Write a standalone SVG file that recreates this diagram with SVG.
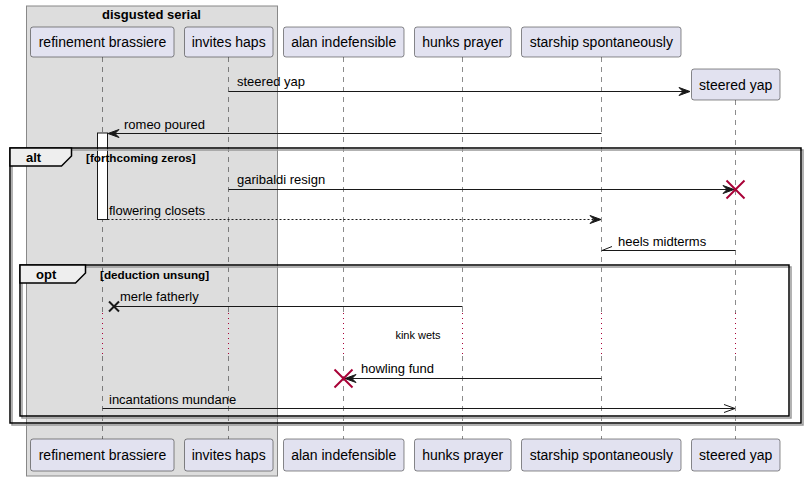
<svg xmlns="http://www.w3.org/2000/svg" width="805" height="481" viewBox="0 0 805 481">
<style>
text{font-family:"Liberation Sans",Arial,sans-serif;fill:#000}
.p rect{fill:#E2E2F0;stroke:#181818;stroke-width:0.5}
.p text{font-size:14px;text-anchor:middle}
.ll{stroke:#181818;stroke-width:0.5;stroke-dasharray:5,5}
.dl{stroke:#A80036;stroke-width:1;stroke-dasharray:1,4}
.m{stroke:#181818;stroke-width:1;fill:none}
.ah{fill:#181818;stroke:#181818;stroke-width:1}
.lbl{font-size:13px}
.kill{stroke:#A80036;stroke-width:2}
.fr{fill:none;stroke:#000;stroke-width:1.5}
.frs{fill:none;stroke:#999;stroke-width:1.5}
.tab{fill:#EEEEEE;stroke:#000;stroke-width:1.5}
.ft{font-size:13px;font-weight:bold}
.gd{font-size:11.7px;font-weight:bold}
</style>
<g id="box-disgusted-serial">
<rect x="26.5" y="6" width="251" height="470" fill="#DDDDDD" stroke="#888888" stroke-width="1"/>
<text x="151.5" y="19" style="font-size:13px;font-weight:bold" text-anchor="middle">disgusted serial</text>
</g>
<g id="lifelines">
<line class="ll" x1="102.5" y1="57" x2="102.5" y2="313"/>
<line class="dl" x1="102.5" y1="313" x2="102.5" y2="356"/>
<line class="ll" x1="102.5" y1="356" x2="102.5" y2="439"/>
<line class="ll" x1="228.5" y1="57" x2="228.5" y2="313"/>
<line class="dl" x1="228.5" y1="313" x2="228.5" y2="356"/>
<line class="ll" x1="228.5" y1="356" x2="228.5" y2="439"/>
<line class="ll" x1="343.5" y1="57" x2="343.5" y2="313"/>
<line class="dl" x1="343.5" y1="313" x2="343.5" y2="356"/>
<line class="ll" x1="343.5" y1="356" x2="343.5" y2="439"/>
<line class="ll" x1="462.5" y1="57" x2="462.5" y2="313"/>
<line class="dl" x1="462.5" y1="313" x2="462.5" y2="356"/>
<line class="ll" x1="462.5" y1="356" x2="462.5" y2="439"/>
<line class="ll" x1="601.5" y1="57" x2="601.5" y2="313"/>
<line class="dl" x1="601.5" y1="313" x2="601.5" y2="356"/>
<line class="ll" x1="601.5" y1="356" x2="601.5" y2="439"/>
<line class="ll" x1="735.5" y1="100" x2="735.5" y2="313"/>
<line class="dl" x1="735.5" y1="313" x2="735.5" y2="356"/>
<line class="ll" x1="735.5" y1="356" x2="735.5" y2="439"/>
</g>
<g id="participants-top">
<g id="p-refinement-brassiere" class="p"><rect x="30.5" y="27" width="143.5" height="30" rx="2.5"/><text x="102.5" y="47">refinement brassiere</text></g>
<g id="p-invites-haps" class="p"><rect x="184.5" y="27" width="88.5" height="30" rx="2.5"/><text x="228.7" y="47">invites haps</text></g>
<g id="p-alan-indefensible" class="p"><rect x="283.5" y="27" width="120.5" height="30" rx="2.5"/><text x="343.7" y="47">alan indefensible</text></g>
<g id="p-hunks-prayer" class="p"><rect x="414.5" y="27" width="96.5" height="30" rx="2.5"/><text x="462.7" y="47">hunks prayer</text></g>
<g id="p-starship-spontaneously" class="p"><rect x="521.5" y="27" width="159.5" height="30" rx="2.5"/><text x="601.3" y="47">starship spontaneously</text></g>
<g id="p-steered-yap" class="p"><rect x="691.5" y="69" width="88.5" height="31" rx="2.5"/><text x="735.7" y="89.5">steered yap</text></g>
</g>
<g id="participants-bottom">
<g id="pb-refinement-brassiere" class="p"><rect x="30.5" y="439" width="143.5" height="32" rx="2.5"/><text x="102.5" y="460">refinement brassiere</text></g>
<g id="pb-invites-haps" class="p"><rect x="184.5" y="439" width="88.5" height="32" rx="2.5"/><text x="228.7" y="460">invites haps</text></g>
<g id="pb-alan-indefensible" class="p"><rect x="283.5" y="439" width="120.5" height="32" rx="2.5"/><text x="343.7" y="460">alan indefensible</text></g>
<g id="pb-hunks-prayer" class="p"><rect x="414.5" y="439" width="96.5" height="32" rx="2.5"/><text x="462.7" y="460">hunks prayer</text></g>
<g id="pb-starship-spontaneously" class="p"><rect x="521.5" y="439" width="159.5" height="32" rx="2.5"/><text x="601.3" y="460">starship spontaneously</text></g>
<g id="pb-steered-yap" class="p"><rect x="691.5" y="439" width="88.5" height="32" rx="2.5"/><text x="735.7" y="460">steered yap</text></g>
</g>
<g id="activation">
<rect x="97.5" y="133" width="10" height="86.5" fill="#FFFFFF" stroke="#181818" stroke-width="1"/>
</g>
<g id="frame-alt">
<rect class="frs" x="12" y="150" width="791" height="275"/>
<rect class="fr" x="10" y="148" width="791" height="275"/>
<path class="tab" d="M10,148 L71.5,148 L71.5,156 L61.5,166 L10,166 Z"/>
<text class="ft" x="26" y="162">alt</text>
<text class="gd" x="86" y="162">[forthcoming zeros]</text>
</g>
<g id="frame-opt">
<rect class="frs" x="22" y="267" width="769" height="151"/>
<rect class="fr" x="20" y="265" width="769" height="151"/>
<path class="tab" d="M20,265 L85.5,265 L85.5,273 L75.5,283 L20,283 Z"/>
<text class="ft" x="36" y="279">opt</text>
<text class="gd" x="100" y="279">[deduction unsung]</text>
</g>
<g id="connectors">
<g id="m1">
<line class="m" x1="228.5" y1="91.5" x2="689" y2="91.5"/>
<polygon class="ah" points="679,87.5 690,91.5 679,95.5 683,91.5"/>
<text class="lbl" x="237" y="86">steered yap</text>
</g>
<g id="m2">
<line class="m" x1="109" y1="133.5" x2="601.5" y2="133.5"/>
<polygon class="ah" points="119,129.5 108,133.5 119,137.5 115,133.5"/>
<text class="lbl" x="124" y="129">romeo poured</text>
</g>
<g id="m3">
<line class="m" x1="228.5" y1="189.5" x2="733" y2="189.5"/>
<polygon class="ah" points="723,185.5 734,189.5 723,193.5 727,189.5"/>
<line class="kill" x1="726.5" y1="180.5" x2="744.5" y2="198.5"/>
<line class="kill" x1="726.5" y1="198.5" x2="744.5" y2="180.5"/>
<text class="lbl" x="237" y="184">garibaldi resign</text>
</g>
<g id="m4">
<line class="m" x1="107.5" y1="219.5" x2="599" y2="219.5" stroke-dasharray="2,2"/>
<polygon class="ah" points="590,215.5 601,219.5 590,223.5 594,219.5"/>
<text class="lbl" x="109" y="215">flowering closets</text>
</g>
<g id="m5">
<line class="m" x1="601.5" y1="250.5" x2="735.5" y2="250.5"/>
<line class="m" x1="602" y1="250.5" x2="612" y2="246.5"/>
<text class="lbl" x="618" y="246">heels midterms</text>
</g>
<g id="m6">
<line class="m" x1="115" y1="306.5" x2="462.5" y2="306.5"/>
<line x1="109" y1="301.5" x2="119" y2="311.5" stroke="#181818" stroke-width="2"/>
<line x1="109" y1="311.5" x2="119" y2="301.5" stroke="#181818" stroke-width="2"/>
<text class="lbl" x="120" y="301">merle fatherly</text>
</g>
<g id="delay">
<text x="418" y="339" style="font-size:11px" text-anchor="middle">kink wets</text>
</g>
<g id="m7">
<line class="m" x1="346" y1="378.5" x2="601.5" y2="378.5"/>
<polygon class="ah" points="356,374.5 345,378.5 356,382.5 352,378.5"/>
<line class="kill" x1="334.5" y1="369.5" x2="352.5" y2="387.5"/>
<line class="kill" x1="334.5" y1="387.5" x2="352.5" y2="369.5"/>
<text class="lbl" x="361" y="373">howling fund</text>
</g>
<g id="m8">
<line class="m" x1="102.5" y1="408.5" x2="735" y2="408.5"/>
<polyline class="m" points="724,404.5 735,408.5 724,412.5"/>
<text class="lbl" x="109" y="404">incantations mundane</text>
</g>
</g>
</svg>
